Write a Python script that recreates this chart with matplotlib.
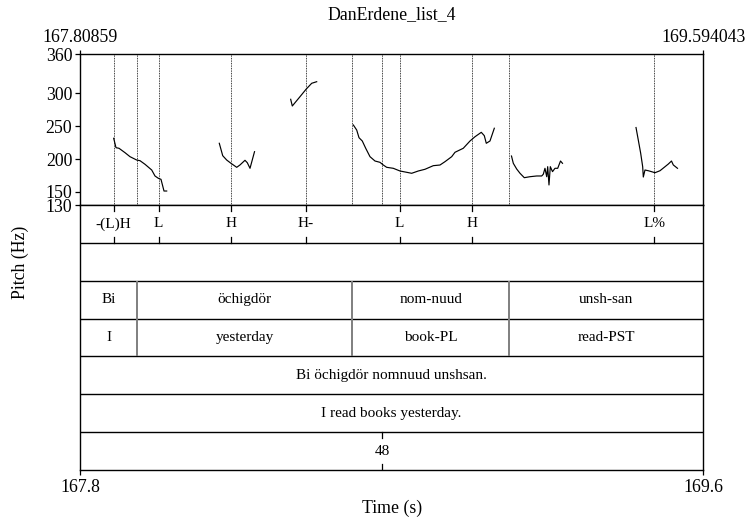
import matplotlib.pyplot as plt

plt.rcParams['font.family'] = ['Liberation Serif', 'DejaVu Serif']
plt.rcParams['font.size'] = 11

title = "DanErdene_list_4"
t_start, t_end = 167.80859, 169.594043
f_min, f_max = 130, 360

# pitch contour pieces: (time s, F0 Hz)
seg1_t = [167.9051, 167.9117, 167.9203, 167.9375, 167.9518, 167.9710, 167.9805,
          167.9948, 168.0140, 168.0234, 168.0329, 168.0406, 168.0492, 168.0569]
seg1_f = [231.6, 217.3, 216.4, 209.7, 203.6, 198.5, 197.5, 192, 183.3, 174.2,
          170.7, 169.1, 151.3, 151.3]
seg2_t = [168.2076, 168.2174, 168.2288, 168.2411, 168.2575, 168.2669, 168.2812,
          168.2878, 168.2956, 168.3085]
seg2_f = [224, 205.1, 198.5, 193.5, 187.4, 191, 198.1, 194.4, 185.9, 211.2]
seg3_t = [168.4121, 168.4167, 168.4388, 168.4560, 168.4723, 168.4866]
seg3_f = [291, 280.8, 295, 306.2, 315.4, 317.8]
seg4_t = [168.5915, 168.6012, 168.6078, 168.6172, 168.6270, 168.6393, 168.6536,
          168.6679, 168.6774, 168.6871, 168.7060, 168.7252, 168.7444, 168.7587,
          168.7776, 168.7968, 168.8206, 168.8398, 168.8541, 168.8733, 168.8828,
          168.9065, 168.9258, 168.9401, 168.9581, 168.9667, 168.9724, 168.9830,
          168.9954]
seg4_f = [251.9, 244.2, 232.5, 227.5, 216.4, 203.6, 197, 195, 190.9, 187.4,
          185.9, 181.8, 179.8, 178.3, 181.8, 184.4, 189.9, 190.9, 196, 203.6,
          210.3, 216.4, 227.5, 234, 240.7, 235.6, 224, 227.5, 246.9]
seg5_t = [169.0446, 169.0498, 169.0595, 169.0690, 169.0813, 169.0976, 169.1168,
          169.1311, 169.1357, 169.1405, 169.1455, 169.1483, 169.1520, 169.1558,
          169.1621, 169.1692, 169.1770, 169.1850, 169.1907]
seg5_f = [204.6, 193.5, 184.8, 178.3, 171.6, 173.1, 174.2, 174.2, 176.8, 185.9,
          173.1, 188.4, 160.5, 188.4, 180.8, 185.9, 185.9, 197, 193.5]
seg6_t = [169.4013, 169.4078, 169.4147, 169.4204, 169.4222, 169.4270, 169.4365,
          169.4462, 169.4557, 169.4700, 169.4843, 169.4938, 169.5029, 169.5081,
          169.5201]
seg6_f = [248, 229, 208.7, 188.3, 172.6, 183.3, 182.2, 180.7, 179.2, 182.2,
          188.3, 192.4, 197, 191, 185.9]
segments = [(seg1_t, seg1_f), (seg2_t, seg2_f), (seg3_t, seg3_f),
            (seg4_t, seg4_f), (seg5_t, seg5_f), (seg6_t, seg6_f)]

# TextGrid
tone_times = [167.9051, 168.0340, 168.2411, 168.4560, 168.7244, 168.9323, 169.4537]
tone_labels = ["-(L)H", "L", "H", "H-", "L", "H", "L%"]
word_bounds = [167.9727, 168.5877, 169.0383]
words = ["Bi", "öchigdör", "nom-nuud", "unsh-san"]
glosses = ["I", "yesterday", "book-PL", "read-PST"]
sentence = "Bi öchigdör nomnuud unshsan."
translation = "I read books yesterday."
num_time = 168.6745
num_label = "48"

big = 12.8

fig = plt.figure(figsize=(7.47, 5.17), dpi=100)
L, W = 80 / 747, 623.3 / 747
ax = fig.add_axes([L, 1 - 205 / 517, W, 151 / 517])
tg = fig.add_axes([L, 1 - 470 / 517, W, 265 / 517])

# pitch panel
for t, f in segments:
    ax.plot(t, f, color='black', lw=0.85)
all_marks = tone_times + word_bounds + [num_time]
ax.vlines(all_marks, f_min, f_max, colors='black', lw=0.6,
          linestyles=(0, (1.0, 1.0)))
ax.set_xlim(t_start, t_end)
ax.set_ylim(f_min, f_max)
ax.set_yticks([130, 150, 200, 250, 300, 360])
ax.set_xticks([t_start, t_end], ["167.80859", "169.594043"])
ax.tick_params(axis='y', direction='out', length=3.6, width=0.9, pad=2, labelsize=big)
ax.tick_params(axis='x', top=True, labeltop=True, bottom=False, labelbottom=False,
               direction='out', length=3, width=0.9, pad=2.5, labelsize=big)
for s in ax.spines.values():
    s.set_linewidth(1.0)

# textgrid panel, 7 tiers
ntier = 7
tg.set_xlim(t_start, t_end)
tg.set_ylim(ntier, 0)
tg.set_yticks([])
tg.set_xticks([t_start, t_end], ["167.8", "169.6"])
tg.tick_params(axis='x', direction='out', length=3.6, width=0.9, pad=3, labelsize=big)
for s in tg.spines.values():
    s.set_linewidth(1.0)
for k in range(1, ntier):
    tg.axhline(k, color='black', lw=1.0)

tk = 0.16
for t, lab in zip(tone_times, tone_labels):
    tg.plot([t, t], [0, tk], color='black', lw=0.9)
    tg.plot([t, t], [1 - tk, 1], color='black', lw=0.9)
    tg.text(t, 0.5, lab, ha='center', va='center')

tg.vlines(word_bounds, 2, 4, colors='#7f7f7f', lw=1.4)
edges = [t_start] + word_bounds + [t_end]
for i in range(len(words)):
    mid = (edges[i] + edges[i + 1]) / 2
    tg.text(mid, 2.5, words[i], ha='center', va='center')
    tg.text(mid, 3.5, glosses[i], ha='center', va='center')

mid_all = (t_start + t_end) / 2
tg.text(mid_all, 4.5, sentence, ha='center', va='center')
tg.text(mid_all, 5.5, translation, ha='center', va='center')
tg.plot([num_time, num_time], [6, 6 + tk], color='black', lw=0.9)
tg.plot([num_time, num_time], [7 - tk, 7], color='black', lw=0.9)
tg.text(num_time, 6.5, num_label, ha='center', va='center')

fig.text(L + W / 2, 1 - 15 / 517, title, ha='center', va='center', fontsize=big)
fig.text(L + W / 2, 1 - 508 / 517, "Time (s)", ha='center', va='center', fontsize=big)
fig.text(20 / 747, 1 - 262 / 517, "Pitch (Hz)", ha='center', va='center',
         rotation=90, fontsize=big)

fig.savefig("out.png", dpi=100)
